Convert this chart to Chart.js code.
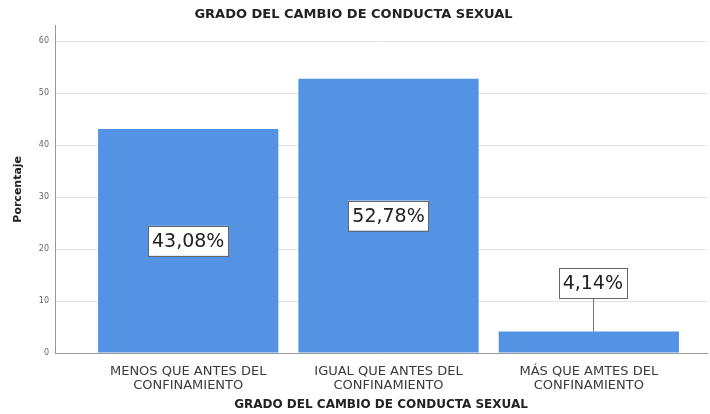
<!DOCTYPE html>
<html>
<head>
<meta charset="utf-8">
<script src="https://cdn.jsdelivr.net/npm/chart.js@4"></script>
<style>
  html, body { margin: 0; padding: 0; background: #fff; }
  #wrap { width: 710px; height: 414px; }
</style>
</head>
<body>
<div id="wrap"><canvas id="conductaChart"></canvas></div>
<script>
const categories = [
    ["MENOS QUE ANTES DEL", "CONFINAMIENTO"],
    ["IGUAL QUE ANTES DEL", "CONFINAMIENTO"],
    ["MÁS QUE AMTES DEL", "CONFINAMIENTO"]
];
const percentages = [43.08, 52.78, 4.14];
const valueLabels = ["43,08%", "52,78%", "4,14%"];
const yTicks = [0, 10, 20, 30, 40, 50, 60];

const titleText = "GRADO DEL CAMBIO DE CONDUCTA SEXUAL";
const axisTitle = "GRADO DEL CAMBIO DE CONDUCTA SEXUAL";
const yTitle = "Porcentaje";

// boxed value labels, with a leader line when the bar is too short
const boxLabels = {
    id: "boxLabels",
    afterDatasetsDraw(chart) {
        const ctx = chart.ctx;
        const meta = chart.getDatasetMeta(0);
        ctx.save();
        ctx.font = "19px 'DejaVu Sans'";
        ctx.textAlign = "center";
        ctx.textBaseline = "middle";
        meta.data.forEach((bar, i) => {
            const txt = valueLabels[i];
            const w = ctx.measureText(txt).width + 8;
            const h = 30;
            let cy = (bar.y + bar.base) / 2;
            const short = bar.base - bar.y < 40;
            if (short) cy = bar.y - 48;
            const cx = bar.x + (short ? 4 : 0);
            if (short) {
                ctx.strokeStyle = "#777";
                ctx.lineWidth = 1;
                ctx.beginPath();
                ctx.moveTo(Math.round(cx) + 0.5, cy + h / 2);
                ctx.lineTo(Math.round(cx) + 0.5, bar.y);
                ctx.stroke();
            }
            ctx.fillStyle = "#fff";
            ctx.fillRect(cx - w / 2, cy - h / 2, w, h);
            ctx.strokeStyle = "#666";
            ctx.lineWidth = 1;
            ctx.strokeRect(Math.round(cx - w / 2) + 0.5, Math.round(cy - h / 2) + 0.5, Math.round(w), h);
            ctx.fillStyle = "#222";
            ctx.fillText(txt, cx, cy + 1);
        });
        ctx.restore();
    }
};

new Chart(document.getElementById("conductaChart"), {
    type: "bar",
    data: {
        datasets: [{
            data: percentages.map((v, i) => ({ x: i, y: v })),
            backgroundColor: "rgb(84, 147, 228)",
            borderWidth: 0,
            categoryPercentage: 1,
            barPercentage: 0.9
        }]
    },
    options: {
        responsive: true,
        maintainAspectRatio: false,
        animation: false,
        layout: { padding: { left: 0, right: 3, top: 0, bottom: 0 } },
        plugins: {
            legend: { display: false },
            tooltip: { enabled: false },
            title: {
                display: true,
                text: titleText,
                color: "#222",
                font: { family: "'DejaVu Sans'", size: 13, weight: "bold" },
                padding: { top: 7, bottom: 3 }
            }
        },
        scales: {
            x: {
                type: "linear",
                offset: false,
                min: -0.665,
                max: 2.59,
                afterBuildTicks: (axis) => {
                    axis.ticks = categories.map((c, i) => ({ value: i }));
                },
                afterFit: (scale) => { scale.height = 61; },
                grid: { display: false },
                border: { color: "#999" },
                ticks: {
                    autoSkip: false,
                    maxRotation: 0,
                    padding: 4,
                    color: "#3a3a3a",
                    font: { family: "'DejaVu Sans'", size: 13, lineHeight: 1.05 },
                    callback: (v) => categories[v]
                },
                title: {
                    display: true,
                    text: axisTitle,
                    color: "#222",
                    font: { family: "'DejaVu Sans'", size: 12, weight: "bold" },
                    padding: { top: 4, bottom: 2 }
                }
            },
            y: {
                min: 0,
                max: 63,
                afterBuildTicks: (axis) => {
                    axis.ticks = yTicks.map(v => ({ value: v }));
                },
                afterFit: (scale) => { scale.width = 55; },
                grid: { color: "#e2e2e2", drawTicks: false },
                border: { color: "#999" },
                ticks: {
                    padding: 6,
                    color: "#666",
                    font: { family: "'DejaVu Sans'", size: 8 }
                },
                title: {
                    display: true,
                    text: yTitle,
                    color: "#222",
                    font: { family: "'DejaVu Sans'", size: 11, weight: "bold" },
                    padding: { top: 12, bottom: 0 }
                }
            }
        }
    },
    plugins: [boxLabels]
});
</script>
</body>
</html>
